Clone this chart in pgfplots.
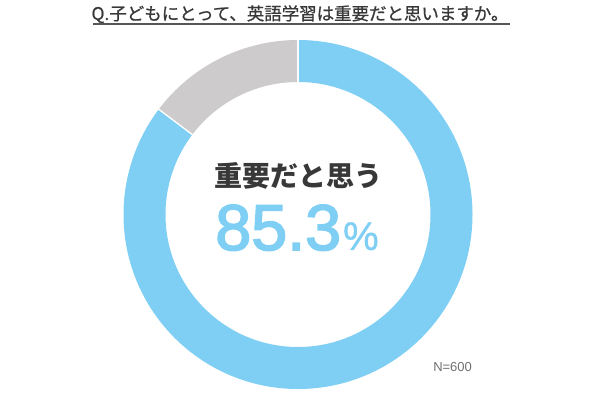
\documentclass[border=0pt]{standalone}
\usepackage{pgfplots}
\pgfplotsset{compat=1.18}
\usepackage{pgfplotstable}
\usepackage{fontspec}
\setmainfont{Liberation Sans}
\newfontfamily\jp{Noto Sans CJK JP}
\newfontfamily\jpmed[FakeBold=0.8]{Noto Sans CJK JP}
\newfontfamily\numfont[FakeBold=2.5]{Liberation Sans}
\newfontfamily\pctfont[FakeBold=0.8]{Liberation Sans}

\definecolor{ringblue}{HTML}{7FCEF4}
\definecolor{ringgray}{HTML}{CDCBCC}
\definecolor{textdark}{HTML}{383838}
\definecolor{notegray}{HTML}{707070}

% share of answers, percent
\pgfplotstableread{
answer value
important 85.3
other 14.7
}\donutdata

\pgfplotstablegetelem{0}{value}\of\donutdata
\let\yesval\pgfplotsretval
\pgfplotstablegetelem{1}{value}\of\donutdata
\let\noval\pgfplotsretval
% gray slice runs counterclockwise from 12 o'clock
\pgfmathsetmacro{\splitangle}{90+3.6*\noval}
\pgfmathsetmacro{\blueend}{\splitangle-360}

\begin{document}
\begin{tikzpicture}
\begin{axis}[
    width=450pt, height=300pt,
    scale only axis,
    xmin=0, xmax=600, ymin=0, ymax=400,
    hide axis,
    clip=false,
]
\path (axis cs:0,0) rectangle (axis cs:600,400);

% ring: mid radius 153.5px, thickness 42px (1px = 0.75pt)
\draw[ringgray, line width=31.5pt]
    (axis cs:298,185.5) ++(90:115.125pt) arc[start angle=90, end angle=\splitangle, radius=115.125pt];
\draw[ringblue, line width=31.5pt]
    (axis cs:298,185.5) ++(90:115.125pt) arc[start angle=90, end angle=\blueend, radius=115.125pt];
\draw[white, line width=1pt]
    (axis cs:298,185.5) ++(90:98pt) -- ++(90:34pt);
\draw[white, line width=1pt]
    (axis cs:298,185.5) ++(\splitangle:98pt) -- ++(\splitangle:34pt);

% title
\node[anchor=base, inner sep=0pt, text=textdark] at (axis cs:300,380)
    {\jpmed\fontsize{13.1pt}{14pt}\selectfont Q.子どもにとって、英語学習は重要だと思いますか。};
\draw[textdark!85, line width=1.1pt] (axis cs:93,376) -- (axis cs:510,376);

% centre label
\node[anchor=center, inner sep=0pt, text=textdark] at (axis cs:298,224)
    {\jp\bfseries\fontsize{21pt}{24pt}\selectfont 重要だと思う};
\node[anchor=base, inner sep=0pt, text=ringblue] at (axis cs:297,150)
    {\numfont\fontsize{48.5pt}{52pt}\selectfont \yesval\kern1.5pt\pctfont\fontsize{30pt}{32pt}\selectfont\%};

\node[anchor=base west, inner sep=0pt, text=notegray] at (axis cs:433,28)
    {\fontsize{9.75pt}{11pt}\selectfont N=600};
\end{axis}
\end{tikzpicture}
\end{document}
